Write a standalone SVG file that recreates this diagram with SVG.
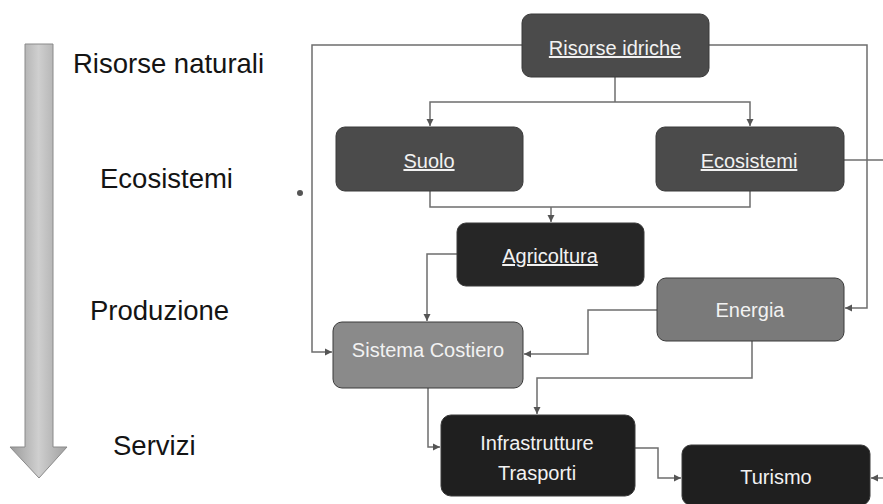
<svg xmlns="http://www.w3.org/2000/svg" width="883" height="504" viewBox="0 0 883 504">
<defs>
<linearGradient id="shaft" x1="0" y1="0" x2="1" y2="0">
<stop offset="0" stop-color="#9a9a9a"/>
<stop offset="0.5" stop-color="#cfcfcf"/>
<stop offset="1" stop-color="#a0a0a0"/>
</linearGradient>
<marker id="ah" markerWidth="8" markerHeight="8" refX="7" refY="4" orient="auto" markerUnits="userSpaceOnUse">
<path d="M0,0.5 L7,4 L0,7.5 Z" fill="#555"/>
</marker>
<style>
.lab{font-family:"Liberation Sans",Arial,sans-serif;font-size:27.5px;fill:#141414}
.bt{font-family:"Liberation Sans",Arial,sans-serif;font-size:20px;fill:#f2f2f2;text-anchor:middle}
.u{text-decoration:underline}
.box{stroke:#3a3a3a;stroke-width:1}
.c{fill:none;stroke:#6e6e6e;stroke-width:1.5}
.ca{fill:none;stroke:#6e6e6e;stroke-width:1.5;marker-end:url(#ah)}
</style>
</defs>
<rect width="883" height="504" fill="#ffffff"/>

<g id="scale-arrow">
<path d="M25,44 H53 V447 H67 L39,478 L10,447 H25 Z" fill="url(#shaft)" stroke="#8a8a8a" stroke-width="1"/>
</g>
<g id="labels">
<text class="lab" x="73" y="73">Risorse naturali</text>
<text class="lab" x="100" y="188">Ecosistemi</text>
<text class="lab" x="90" y="320">Produzione</text>
<text class="lab" x="113" y="455">Servizi</text>
<circle cx="300" cy="193" r="3" fill="#555"/>
</g>

<g id="connectors">
<path class="ca" d="M522,45 H312 V352 H332"/>
<path class="ca" d="M709,45 H867 V308 H845"/>
<path class="c" d="M615,77 V102"/>
<path class="ca" d="M615,102 H430 V126"/>
<path class="ca" d="M615,102 H750 V126"/>
<path class="c" d="M430,191 V207 H750 V191"/>
<path class="ca" d="M551,207 V222"/>
<path class="c" d="M844,160 H883"/>
<path class="ca" d="M883,478 H871"/>
<path class="ca" d="M457,254 H427 V321"/>
<path class="ca" d="M657,310 H588 V354 H524"/>
<path class="ca" d="M752,341 V378 H537 V414"/>
<path class="ca" d="M428,388 V447 H440"/>
<path class="ca" d="M635,448 H658 V478 H681"/>
</g>

<g id="n-risorse-idriche">
<rect class="box" x="522" y="14" width="187" height="63" rx="9" fill="#4b4b4b"/>
<text class="bt u" x="615" y="55">Risorse idriche</text>
</g>
<g id="n-suolo">
<rect class="box" x="336" y="127" width="187" height="64" rx="9" fill="#4b4b4b"/>
<text class="bt u" x="429" y="168">Suolo</text>
</g>
<g id="n-ecosistemi">
<rect class="box" x="656" y="127" width="188" height="64" rx="9" fill="#4b4b4b"/>
<text class="bt u" x="749" y="168">Ecosistemi</text>
</g>
<g id="n-agricoltura">
<rect class="box" x="457" y="223" width="187" height="63" rx="9" fill="#262626"/>
<text class="bt u" x="550" y="263">Agricoltura</text>
</g>
<g id="n-energia">
<rect class="box" x="657" y="278" width="187" height="63" rx="9" fill="#7a7a7a" stroke="#666"/>
<text class="bt" x="750" y="317">Energia</text>
</g>
<g id="n-sistema-costiero">
<rect class="box" x="333" y="322" width="190" height="66" rx="9" fill="#8a8a8a" stroke="#777"/>
<text class="bt" x="428" y="357" font-size="19.5">Sistema Costiero</text>
</g>
<g id="n-infrastrutture">
<rect class="box" x="441" y="415" width="194" height="81" rx="10" fill="#1f1f1f"/>
<text class="bt" x="537" y="450">Infrastrutture</text>
<text class="bt" x="537" y="480">Trasporti</text>
</g>
<g id="n-turismo">
<rect class="box" x="682" y="445" width="188" height="60" rx="9" fill="#1f1f1f"/>
<text class="bt" x="776" y="484">Turismo</text>
</g>
</svg>
